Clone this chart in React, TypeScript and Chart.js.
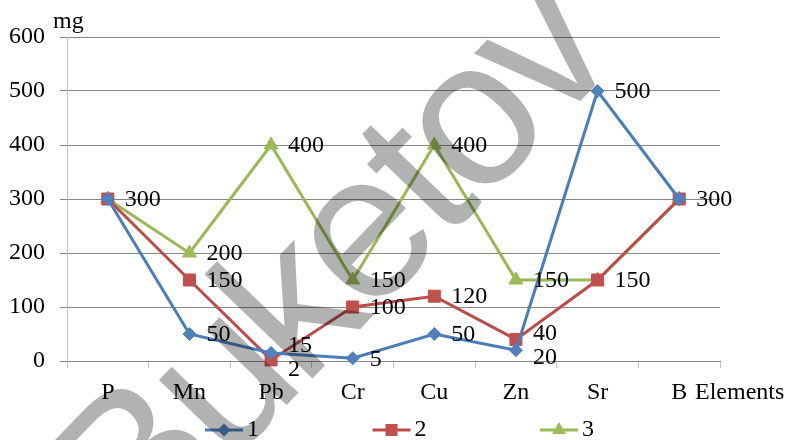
import React, { useEffect, useRef } from 'react';
import { Chart, registerables } from 'chart.js';

Chart.register(...registerables);

const categories = ['P', 'Mn', 'Pb', 'Cr', 'Cu', 'Zn', 'Sr', 'B'];
const series1 = [300, 50, 15, 5, 50, 20, 500, 300];
const series2 = [300, 150, 2, 100, 120, 40, 150, 300];
const series3 = [300, 200, 400, 150, 400, 150, 150, 300];
const seriesNames = ['1', '2', '3'];
const yMin = 0;
const yMax = 600;
const yStep = 100;
const yAxisTitle = 'mg';
const xAxisTitle = 'Elements';
const watermarkText = 'Buketov';

const FONT = 'Liberation Serif';
const STYLES = [
  { line: '#4A7EBB', fill: '#4F81BD', point: 'rectRot', r: 6.5 },
  { line: '#BE4B48', fill: '#C0504D', point: 'rect', r: 8.5 },
  { line: '#98B954', fill: '#9BBB59', point: 'triangle', r: 8 },
];

function drawMarker(ctx: CanvasRenderingContext2D, style: string, x: number, y: number, r: number) {
  ctx.beginPath();
  if (style === 'rectRot') {
    ctx.moveTo(x, y - r);
    ctx.lineTo(x + r, y);
    ctx.lineTo(x, y + r);
    ctx.lineTo(x - r, y);
  } else if (style === 'rect') {
    const s = r * Math.SQRT1_2;
    ctx.rect(x - s, y - s, 2 * s, 2 * s);
  } else {
    const a = -Math.PI / 2;
    for (let k = 0; k < 3; k++) {
      const ang = a + (k * 2 * Math.PI) / 3;
      const px = x + Math.cos(ang) * r;
      const py = y + Math.sin(ang) * r;
      if (k === 0) ctx.moveTo(px, py);
      else ctx.lineTo(px, py);
    }
  }
  ctx.closePath();
  ctx.fill();
}

const overlayPlugin = {
  id: 'overlay',
  afterDatasetsDraw(chart: any) {
    const ctx: CanvasRenderingContext2D = chart.ctx;
    ctx.save();
    ctx.font = `24px "${FONT}"`;
    ctx.fillStyle = '#000';
    ctx.textAlign = 'left';
    ctx.textBaseline = 'middle';
    const nDs = chart.data.datasets.length;
    for (let i = 0; i < categories.length; i++) {
      const items: { text: string; x: number; y: number }[] = [];
      for (let d = 0; d < nDs; d++) {
        const pt = chart.getDatasetMeta(d).data[i];
        const text = String(chart.data.datasets[d].data[i]);
        if (items.some((it) => it.text === text)) continue;
        items.push({ text, x: pt.x + 17, y: pt.y });
      }
      items.sort((a, b) => a.y - b.y);
      const minSep = 24;
      for (let k = 1; k < items.length; k++) {
        const a = items[k - 1];
        const b = items[k];
        if (b.y - a.y < minSep) {
          const mid = (a.y + b.y) / 2;
          a.y = mid - minSep / 2;
          b.y = mid + minSep / 2;
        }
      }
      items.forEach((it) => ctx.fillText(it.text, it.x, it.y + 1));
    }
    ctx.restore();
  },
  afterDraw(chart: any) {
    const ctx: CanvasRenderingContext2D = chart.ctx;
    const area = chart.chartArea;
    ctx.save();
    ctx.font = `24px "${FONT}"`;
    ctx.fillStyle = '#000';
    // axis titles
    ctx.textAlign = 'left';
    ctx.textBaseline = 'alphabetic';
    ctx.fillText(yAxisTitle, area.left - 14, area.top - 9);
    ctx.fillText(xAxisTitle, area.right - 25, area.bottom + 38);
    // legend
    const legendY = 430;
    seriesNames.forEach((name, d) => {
      const st = STYLES[d];
      const x0 = 205 + d * 167.5;
      ctx.strokeStyle = st.line;
      ctx.lineWidth = 3;
      ctx.beginPath();
      ctx.moveTo(x0, legendY);
      ctx.lineTo(x0 + 38, legendY);
      ctx.stroke();
      ctx.fillStyle = st.fill;
      drawMarker(ctx, st.point, x0 + 19, legendY, st.r);
      ctx.fillStyle = '#000';
      ctx.textBaseline = 'middle';
      ctx.fillText(name, x0 + 42, legendY);
    });
    // watermark (drawn glyph by glyph with slightly tightened spacing)
    ctx.translate(138, 559);
    ctx.rotate((-46 * Math.PI) / 180);
    ctx.font = '207px "Liberation Sans"';
    ctx.fillStyle = 'rgba(0,0,0,0.3)';
    ctx.textAlign = 'left';
    ctx.textBaseline = 'alphabetic';
    let cx = 0;
    for (const ch of watermarkText) {
      ctx.fillText(ch, cx, 0);
      cx += ctx.measureText(ch).width - 8;
    }
    ctx.restore();
  },
};

export default function App() {
  const ref = useRef<HTMLCanvasElement | null>(null);
  useEffect(() => {
    document.body.style.margin = '0';
    const canvas = ref.current;
    if (!canvas) return;
    const seriesData = [series1, series2, series3];
    const chart = new Chart(canvas, {
      type: 'line',
      data: {
        labels: categories,
        datasets: seriesData.map((data, d) => ({
          label: seriesNames[d],
          data,
          borderColor: STYLES[d].line,
          backgroundColor: STYLES[d].fill,
          pointBackgroundColor: STYLES[d].fill,
          pointBorderColor: STYLES[d].fill,
          pointBorderWidth: 1,
          pointStyle: STYLES[d].point as any,
          pointRadius: STYLES[d].r,
          borderWidth: 3,
          tension: 0,
          fill: false,
          clip: false as any,
        })),
      },
      options: {
        animation: false,
        responsive: false,
        maintainAspectRatio: false,
        events: [],
        layout: { padding: { top: 37, right: 65, left: 0, bottom: 0 } },
        plugins: { legend: { display: false }, tooltip: { enabled: false }, title: { display: false } },
        scales: {
          x: {
            type: 'category',
            offset: true,
            grid: { offset: true, drawOnChartArea: false, drawTicks: true, tickLength: 7, color: '#BFBFBF', lineWidth: 1 },
            border: { color: '#868686', width: 1 },
            ticks: { font: { family: FONT, size: 24 }, color: '#000', padding: 10, maxRotation: 0, autoSkip: false },
            afterFit: (s: any) => { s.height = 79; },
          },
          y: {
            min: yMin,
            max: yMax,
            ticks: { stepSize: yStep, font: { family: FONT, size: 24 }, color: '#000', padding: 15 },
            grid: { color: '#868686', lineWidth: 1, tickLength: 7, drawTicks: true },
            border: { color: '#BFBFBF', width: 1 },
            afterFit: (s: any) => { s.width = 67; },
          },
        },
      },
      plugins: [overlayPlugin],
    });
    return () => chart.destroy();
  }, []);
  return <canvas ref={ref} width={785} height={440} style={{ display: 'block', width: 785, height: 440 }} />;
}
